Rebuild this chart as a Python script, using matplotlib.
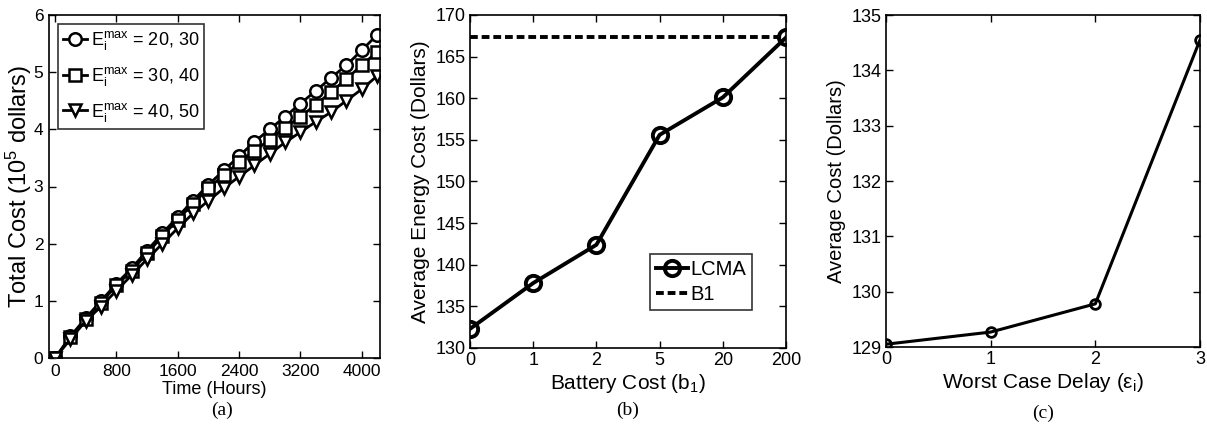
import matplotlib
matplotlib.use("Agg")
import matplotlib.pyplot as plt
import numpy as np

plt.rcParams['font.family'] = ['Liberation Sans', 'DejaVu Sans']
plt.rcParams['mathtext.fontset'] = 'custom'
plt.rcParams['mathtext.rm'] = 'Liberation Sans'
plt.rcParams['mathtext.it'] = 'Liberation Sans'

# (a) total cost over time
hours = [0, 200, 400, 600, 800, 1000, 1200, 1400, 1600, 1800, 2000,
         2200, 2400, 2600, 2800, 3000, 3200, 3400, 3600, 3800, 4000, 4200]
cost_20_30 = [0, 0.38, 0.70, 1.00, 1.30, 1.57, 1.88, 2.18, 2.47, 2.75, 3.03,
              3.28, 3.53, 3.78, 4.00, 4.22, 4.45, 4.67, 4.90, 5.12, 5.38, 5.65]
cost_30_40 = [0, 0.37, 0.68, 0.97, 1.27, 1.53, 1.83, 2.13, 2.42, 2.70, 2.97,
              3.20, 3.42, 3.62, 3.82, 4.03, 4.22, 4.43, 4.65, 4.88, 5.12, 5.35]
cost_40_50 = [0, 0.33, 0.65, 0.90, 1.18, 1.45, 1.73, 2.00, 2.27, 2.53, 2.75,
              2.97, 3.17, 3.37, 3.57, 3.77, 3.95, 4.13, 4.30, 4.50, 4.70, 4.93]
labels_a = [r'E$_\mathregular{i}^\mathregular{max}$ = 20, 30',
            r'E$_\mathregular{i}^\mathregular{max}$ = 30, 40',
            r'E$_\mathregular{i}^\mathregular{max}$ = 40, 50']

# (b) energy cost vs battery cost
battery_labels = ['0', '1', '2', '5', '20', '200']
lcma_cost = [132.3, 137.8, 142.4, 155.6, 160.1, 167.3]
b1_cost = 167.3

# (c) cost vs worst case delay
delay = [0, 1, 2, 3]
delay_cost = [129.05, 129.27, 129.78, 134.55]

W, H = 1207, 426
fig = plt.figure(figsize=(W / 100, H / 100), dpi=100)


def box(l, r, t, b):
    return [l / W, (H - b) / H, (r - l) / W, (b - t) / H]


def style(ax, size, pad=3):
    ax.tick_params(direction='in', top=True, right=True, length=5,
                   width=1, labelsize=size, pad=pad)
    for s in ax.spines.values():
        s.set_linewidth(1.2)


# panel (a)
ax = fig.add_axes(box(49, 380, 15, 358))
ax.plot(hours, cost_20_30, 'k-o', lw=2, ms=9, mfc='white', mew=1.8, label=labels_a[0])
ax.plot(hours, cost_30_40, 'k-s', lw=2, ms=8, mfc='white', mew=1.8, label=labels_a[1])
ax.plot(hours, cost_40_50, 'k-v', lw=2, ms=9, mfc='white', mew=1.8, label=labels_a[2])
ax.set_xlim(-80, 4240)
ax.set_ylim(0, 6)
ax.set_xticks([0, 800, 1600, 2400, 3200, 4000])
ax.set_yticks(range(7))
style(ax, 12.5, pad=4)
ax.set_xlabel('Time (Hours)', fontsize=13, labelpad=2)
ax.set_ylabel(r'Total Cost (10$^\mathregular{5}$ dollars)', fontsize=17, labelpad=0)
leg = ax.legend(loc='upper left', fontsize=13, frameon=True, fancybox=False,
                edgecolor='black', handlelength=1.3, handletextpad=0.2,
                borderpad=0.3, labelspacing=0.7, borderaxespad=0.5)
leg.get_frame().set_linewidth(1.2)

# panel (b)
ax = fig.add_axes(box(470, 786, 15, 348))
xb = np.arange(len(battery_labels))
ax.plot(xb, lcma_cost, 'k-o', lw=2.8, ms=11, mfc='none', mew=2.8, label='LCMA')
ax.axhline(b1_cost, color='k', lw=2.8, ls=(0, (2, 1)), label='B1')
ax.set_xlim(0, len(battery_labels) - 1)
ax.set_ylim(130, 170)
ax.set_xticks(xb)
ax.set_xticklabels(battery_labels)
ax.set_yticks(range(130, 171, 5))
style(ax, 13)
ax.set_xlabel(r'Battery Cost (b$_\mathregular{1}$)', fontsize=15, labelpad=2)
ax.set_ylabel('Average Energy Cost (Dollars)', fontsize=15, labelpad=4)
leg = ax.legend(loc='lower right', bbox_to_anchor=(0.892, 0.115), fontsize=14.5,
                frameon=True, fancybox=False, edgecolor='black',
                handlelength=1.6, handletextpad=0.1, borderpad=0.3,
                labelspacing=0.3, borderaxespad=0)
leg.get_frame().set_linewidth(1.2)

# panel (c)
ax = fig.add_axes(box(886, 1200, 15, 347))
ax.plot(delay, delay_cost, 'k-o', lw=2.2, ms=7, mfc='none', mew=2)
ax.set_xlim(0, 3)
ax.set_ylim(129, 135)
ax.set_xticks(delay)
ax.set_yticks(range(129, 136))
style(ax, 13)
ax.set_xlabel(r'Worst Case Delay ($\epsilon_\mathregular{i}$)', fontsize=15, labelpad=2)
ax.set_ylabel('Average Cost (Dollars)', fontsize=14.5, labelpad=4)

# captions
for x, y, txt in [(222, 410, '(a)'), (628, 410, '(b)'), (1043, 413, '(c)')]:
    fig.text(x / W, 1 - y / H, txt, ha='center', va='center', fontsize=14,
             family='Liberation Serif')

fig.savefig('out.png', dpi=100)
